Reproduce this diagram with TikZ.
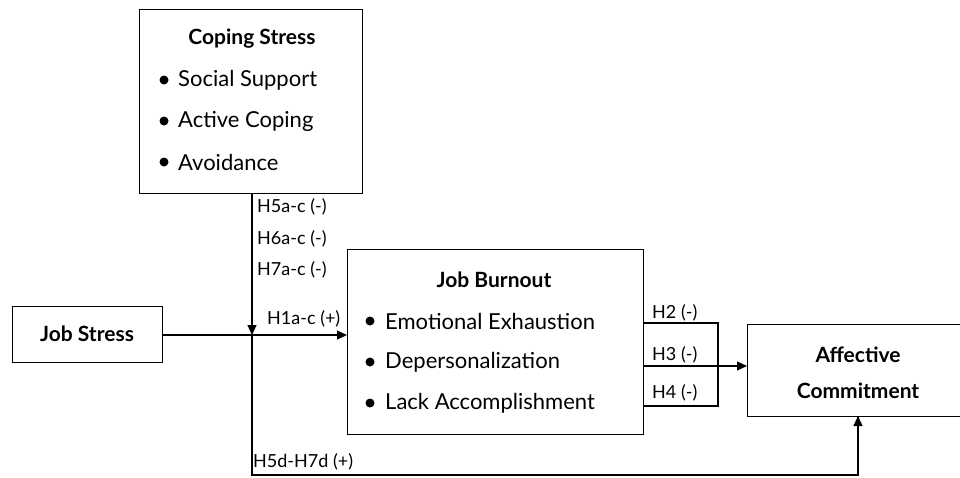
\documentclass[tikz,border=0pt]{standalone}
\usepackage{fontspec}
\setmainfont{Lato}
\usetikzlibrary{arrows.meta}
\begin{document}
\begin{tikzpicture}[x=1pt,y=-1pt,
  box/.style={draw,line width=1.1pt,inner sep=0pt,anchor=north west},
  txt/.style={font=\fontsize{22}{26}\selectfont,inner sep=0pt,anchor=west},
  ttl/.style={font=\fontsize{21}{25}\selectfont\bfseries,inner sep=0pt},
  lbl/.style={font=\fontsize{18}{21}\selectfont,inner sep=0pt,anchor=west},
  conn/.style={line width=1.1pt},
  arr/.style={line width=1.1pt,-{Triangle[length=10pt,width=9pt]}},
  bul/.style={circle,fill=black,inner sep=0pt,minimum size=9pt}]
\useasboundingbox (0,0) rectangle (960,477);
% boxes
\node[box,minimum width=223pt,minimum height=184pt] (cope) at (139,9) {};
\node[box,minimum width=150pt,minimum height=56pt] (js) at (12,306) {};
\node[box,minimum width=296pt,minimum height=185pt] (jb) at (347,249) {};
\node[box,minimum width=220pt,minimum height=92pt] (ac) at (747,324) {};
% coping text
\node[ttl] (copet) at (252,39) {Coping Stress};
\node[bul] (cb1) at (164,80) {}; \node[txt] (ct1) at (178,80) {Social Support};
\node[bul] (cb2) at (164,121) {}; \node[txt] (ct2) at (178,121) {Active Coping};
\node[bul] (cb3) at (164,162) {}; \node[txt] (ct3) at (178,162) {Avoidance};
% job stress
\node[ttl] (jst) at (87,334) {Job Stress};
% burnout text
\node[ttl] (jbt) at (494,280) {Job Burnout};
\node[bul] (bb1) at (370,321) {}; \node[txt] (bt1) at (385,321) {Emotional Exhaustion};
\node[bul] (bb2) at (370,362) {}; \node[txt] (bt2) at (385,362) {Depersonalization};
\node[bul] (bb3) at (370,403) {}; \node[txt] (bt3) at (385,403) {Lack Accomplishment};
% affective
\node[ttl] (act1) at (858,355) {Affective};
\node[ttl] (act2) at (858,391) {Commitment};
% coordinates
\coordinate (v0) at (252,193);
\coordinate (vx) at (252,335);
\coordinate (vb) at (252,475);
\coordinate (ab) at (858,416);
\coordinate (o2) at (643,323);
\coordinate (o3) at (643,366);
\coordinate (o4) at (643,406);
\coordinate (k2) at (718,323);
\coordinate (k4) at (718,406);
\coordinate (jsr) at (162,335);
\coordinate (jbl) at (347,335);
\coordinate (acl) at (747,366);
% connectors
\draw[arr] (v0) -- (vx);
\draw[conn] (vx) -- (vb) -| (ab);
\draw[arr] (vb -| ab) -- (ab);
\draw[arr] (jsr) -- (jbl);
\draw[conn] (o2) -- (k2) -- (k4) -- (o4);
\draw[arr] (o3) -- (acl);
% labels
\node[lbl] (l5) at (257,207) {H5a-c (-)};
\node[lbl] (l6) at (257,239) {H6a-c (-)};
\node[lbl] (l7) at (257,270) {H7a-c (-)};
\node[lbl] (l1) at (267,319) {H1a-c (+)};
\node[lbl] (l2) at (652,313) {H2 (-)};
\node[lbl] (l3) at (652,355) {H3 (-)};
\node[lbl] (l4) at (652,393) {H4 (-)};
\node[lbl] (l8) at (253,462) {H5d-H7d (+)};
\end{tikzpicture}
\end{document}
